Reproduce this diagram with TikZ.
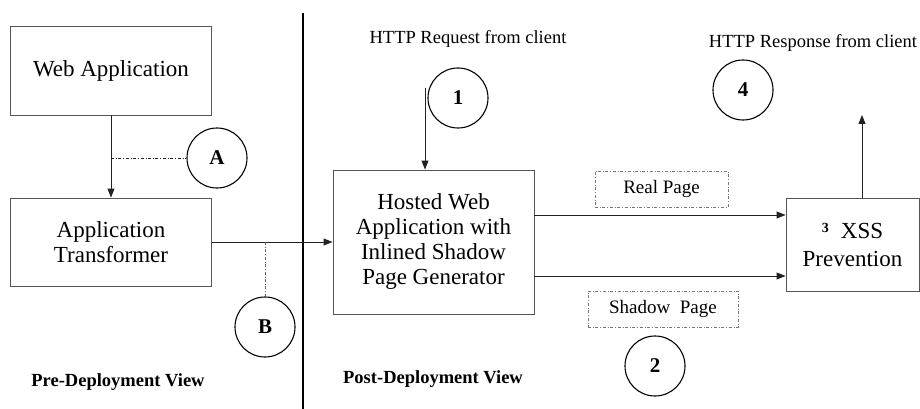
\documentclass[tikz,border=0pt]{standalone}
\usepackage{fontspec}
\setmainfont{Liberation Serif}
\usepackage{xcolor}
\usetikzlibrary{positioning,arrows.meta,calc}
\definecolor{boxborder}{HTML}{555555}
\definecolor{lineink}{HTML}{222222}
\definecolor{tagborder}{HTML}{777777}

\begin{document}
\begin{tikzpicture}[x=1pt,y=-1pt,
  procbox/.style={draw=boxborder,line width=0.9pt,align=center,
    font=\fontsize{23}{25}\selectfont,inner sep=0pt},
  stepcirc/.style={draw=black,circle,line width=1.1pt,minimum size=60pt,
    inner sep=0pt,font=\fontsize{21}{21}\selectfont\bfseries},
  pagetag/.style={draw=tagborder,dash dot,line width=0.7pt,inner sep=0pt,
    font=\fontsize{19}{19}\selectfont},
  arr/.style={-{Triangle[length=9pt,width=7pt]},lineink,line width=0.9pt}]

\useasboundingbox (0,0) rectangle (920,409);

% pre-deployment side
\node[procbox,minimum width=201pt,minimum height=89pt] (webapp) at (111,70.5)
  {Web Application};
\node[procbox,minimum width=201pt,minimum height=88pt] (transf) at (111,242)
  {Application\\Transformer};
\node[stepcirc] (stepA) at (217,158) {A};
\node[stepcirc] (stepB) at (265,327) {B};
\node[font=\fontsize{18.5}{18.5}\selectfont\bfseries] (prelbl) at (118,382)
  {Pre-Deployment View};

\draw[arr] (webapp.south) -- (transf.north);
\draw[lineink,dash dot,line width=0.6pt] (stepA.west -| webapp.south) -- (stepA.west);

% divider
\coordinate (divtop) at (303,13);
\coordinate (divbot) at (303,409);
\draw[black,line width=1.2pt] (divtop) -- (divbot);

% post-deployment side
\node[procbox,minimum width=201pt,minimum height=144pt] (hosted) at (433.5,242)
  {Hosted Web\\Application with\\Inlined Shadow\\Page Generator};
\node[procbox,minimum width=133pt,minimum height=93pt,
      font=\fontsize{23}{28}\selectfont] (xss) at (852.5,244.5)
  {\raisebox{6pt}{\fontsize{14}{14}\selectfont\bfseries 3}\hspace{12pt}XSS\\Prevention};

\draw[arr] (transf.east) -- (hosted.west);
\draw[lineink!70,dash dot,line width=0.6pt] (stepB.north |- transf.east) -- (stepB.north);

\node[font=\fontsize{18.5}{18.5}\selectfont] (reqlbl) at (468,39)
  {HTTP Request from client};
\node[stepcirc] (step1) at (458,98) {1};
\coordinate (req) at (425,88);
\draw[arr] (req) -- (req |- hosted.north);

\coordinate (realy) at (0,215);
\coordinate (shady) at (0,276);
\draw[arr] (hosted.east |- realy) -- (xss.west |- realy);
\draw[arr] (hosted.east |- shady) -- (xss.west |- shady);
\node[pagetag,minimum width=133pt,minimum height=36pt] (realtag) at (661.5,189)
  {Real Page};
\node[pagetag,minimum width=150pt,minimum height=36pt] (shadowtag) at (663,309)
  {Shadow\ \ Page};
\node[stepcirc] (step2) at (655,366) {2};

\node[font=\fontsize{18.5}{18.5}\selectfont] (resplbl) at (813,43)
  {HTTP Response from client};
\node[stepcirc] (step4) at (743,90) {4};
\coordinate (resp) at (862,115);
\draw[arr] (resp |- xss.north) -- (resp);

\node[font=\fontsize{18.5}{18.5}\selectfont\bfseries] (postlbl) at (433,379)
  {Post-Deployment View};

\end{tikzpicture}
\end{document}
